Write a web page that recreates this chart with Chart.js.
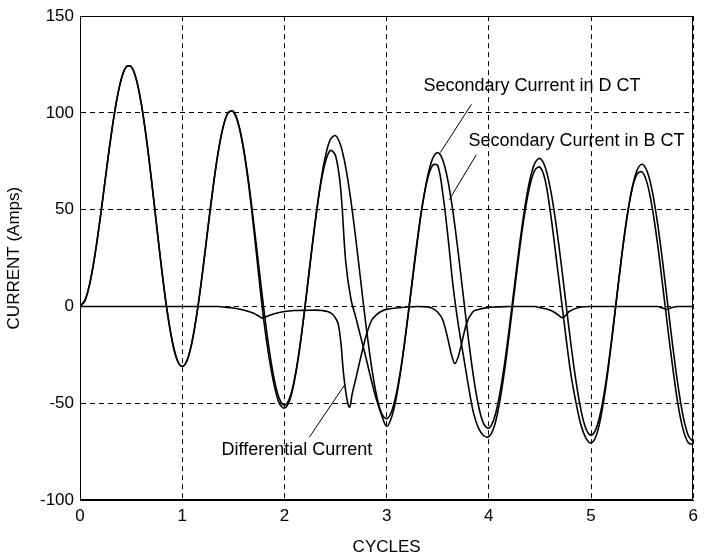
<!DOCTYPE html>
<html>
<head>
<meta charset="utf-8">
<script src="https://cdn.jsdelivr.net/npm/chart.js@4.4.1/dist/chart.umd.min.js"></script>
<style>
  html, body { margin: 0; padding: 0; background: #fff; }
</style>
</head>
<body>
<canvas id="currentChart" width="704" height="560"></canvas>
<script>
// time axis, in cycles (shared by the two CT currents)
const cycles = [
  0, 0.05, 0.1, 0.15, 0.2, 0.25, 0.3, 0.35, 0.4, 0.45,
  0.5, 0.55, 0.6, 0.65, 0.7, 0.75, 0.8, 0.85, 0.9, 0.95,
  1, 1.05, 1.1, 1.15, 1.2, 1.25, 1.3, 1.35, 1.4, 1.45,
  1.5, 1.55, 1.6, 1.65, 1.7, 1.75, 1.8, 1.85, 1.9, 1.95,
  2, 2.05, 2.1, 2.15, 2.2, 2.25, 2.3, 2.35, 2.4, 2.45,
  2.5, 2.55, 2.6, 2.65, 2.7, 2.75, 2.8, 2.85, 2.9, 2.95,
  3, 3.05, 3.1, 3.15, 3.2, 3.25, 3.3, 3.35, 3.4, 3.45,
  3.5, 3.55, 3.6, 3.65, 3.7, 3.75, 3.8, 3.85, 3.9, 3.95,
  4, 4.05, 4.1, 4.15, 4.2, 4.25, 4.3, 4.35, 4.4, 4.45,
  4.5, 4.55, 4.6, 4.65, 4.7, 4.75, 4.8, 4.85, 4.9, 4.95,
  5, 5.05, 5.1, 5.15, 5.2, 5.25, 5.3, 5.35, 5.4, 5.45,
  5.5, 5.55, 5.6, 5.65, 5.7, 5.75, 5.8, 5.85, 5.9, 5.95,
  6
];

// Secondary Current in D CT (Amps)
const dCT = [
  0, 3.3, 13.0, 27.9, 46.5, 66.9, 86.7, 103.9, 116.7, 123.7,
  124.0, 117.5, 104.7, 86.6, 65.0, 41.7, 18.9, -1.4, -17.3, -27.5,
  -31.0, -27.5, -17.3, -1.5, 18.2, 39.8, 60.8, 79.1, 92.7, 100.2,
  100.8, 94.5, 82.0, 64.3, 43.1, 20.4, -2.0, -21.9, -37.6, -47.6,
  -51.0, -47.4, -37.1, -21.1, -0.9, 21.2, 43.1, 62.5, 77.4, 86.3,
  88.3, 83.3, 71.8, 54.9, 34.1, 11.6, -10.6, -30.3, -45.6, -55.2,
  -58.0, -54.0, -43.7, -28.2, -8.9, 12.3, 33.3, 52.2, 67.0, 76.4,
  79.5, 75.6, 64.9, 48.5, 28.0, 5.5, -16.7, -36.4, -51.6, -60.7,
  -62.9, -58.2, -47.2, -31.0, -11.1, 10.5, 31.7, 50.5, 65.1, 74.1,
  76.5, 72.2, 61.4, 45.3, 25.4, 3.5, -18.3, -37.7, -53.2, -63.1,
  -66.5, -63.0, -53.0, -37.3, -17.6, 4.2, 25.9, 45.4, 60.8, 70.4,
  73.5, 69.6, 59.2, 43.2, 23.2, 1.1, -20.9, -40.7, -56.5, -66.5,
  -70.0
];

// Secondary Current in B CT (Amps)
const bCT = [
  0, 3.3, 13.0, 27.9, 46.5, 66.9, 86.7, 103.9, 116.7, 123.7,
  124.0, 117.5, 104.7, 86.6, 65.0, 41.7, 18.9, -1.4, -17.3, -27.5,
  -31.0, -27.5, -17.3, -1.5, 18.2, 39.8, 60.8, 79.1, 92.7, 100.2,
  100.6, 94.0, 81.0, 62.8, 40.1, 15.4, -8.0, -26.4, -40.6, -50.1,
  -52.5, -48.7, -37.9, -21.2, -0.5, 21.9, 43.4, 61.6, 74.5, 80.6,
  78.0, 61.0, 23.0, 4.0, -6.0, -16.5, -27.0, -38.0, -48.0, -56.0,
  -61.9, -57.0, -45.5, -28.8, -8.4, 13.4, 34.5, 52.6, 65.8, 73.0,
  72.8, 58.0, 36.0, 10.5, -9.0, -25.0, -41.0, -55.0, -63.0, -66.8,
  -67.3, -62.4, -51.1, -34.5, -14.2, 7.7, 29.1, 47.8, 62.1, 70.4,
  72.0, 65.5, 49.5, 29.0, 7.5, -14.0, -34.0, -49.0, -61.0, -68.0,
  -70.5, -66.8, -56.0, -39.4, -18.5, 4.2, 26.4, 45.8, 60.3, 68.4,
  69.5, 63.5, 50.5, 32.5, 11.0, -11.0, -32.0, -50.5, -63.5, -70.3,
  -71.6
];

// Differential Current, sampled more finely round its dips
const diffCycles = [
  0, 1.35, 1.4, 1.5, 1.6, 1.7, 1.75, 1.78, 1.82, 1.9,
  2.0, 2.1, 2.2, 2.3, 2.37, 2.42, 2.47, 2.5, 2.53, 2.555,
  2.575, 2.6, 2.625, 2.64, 2.66, 2.7, 2.75, 2.8, 2.85, 2.9,
  2.95, 3.0, 3.1, 3.2, 3.3, 3.4, 3.45, 3.5, 3.55, 3.6,
  3.635, 3.667, 3.7, 3.73, 3.78, 3.84, 3.9, 3.97, 4.1, 4.2,
  4.45, 4.5, 4.59, 4.656, 4.72, 4.786, 4.88, 5.0, 5.65, 5.7,
  5.74, 5.78, 5.85, 6.0
];
const diffCurrent = [
  0, 0, -0.3, -0.8, -1.8, -3.5, -5, -6, -5.3, -3.8,
  -2.6, -2.1, -2, -1.9, -2.1, -2.6, -4, -6, -10, -20,
  -33, -44, -51, -52, -46, -37, -25.5, -15, -7.5, -4.3,
  -2.5, -1.5, -0.8, -0.3, 0, -0.2, -1, -3, -7, -17,
  -25, -29.5, -26, -20, -9, -3, -1.5, -0.7, -0.2, 0,
  0, -0.6, -1.7, -3.5, -5.8, -2.6, -0.5, 0, 0, -0.8,
  -1.5, -0.8, 0, 0
];

const xTicks = [0, 1, 2, 3, 4, 5, 6];
const yTicks = [-100, -50, 0, 50, 100, 150];

// text labels with leader lines, placed in data units
const notes = [
  { text: 'Secondary Current in D CT', at: [3.36, 114], from: [3.83, 104.5], to: [3.525, 79.5] },
  { text: 'Secondary Current in B CT', at: [3.8, 85.6], from: [3.877, 78.4], to: [3.613, 55.2] },
  { text: 'Differential Current', at: [1.384, -74.2], from: [2.244, -67.5], to: [2.587, -40.7] }
];

function pairUp(xs, ys) {
  return xs.map(function (x, i) { return { x: x, y: ys[i] }; });
}

const FONT = '"Liberation Sans", Arial, sans-serif';
Chart.defaults.font.family = FONT;
Chart.defaults.color = '#000';

const framePlugin = {
  id: 'frame',
  afterDatasetsDraw(chart) {
    const ctx = chart.ctx;
    const a = chart.chartArea;
    ctx.save();
    ctx.strokeStyle = '#000';
    ctx.lineWidth = 1;
    ctx.setLineDash([]);
    ctx.strokeRect(Math.round(a.left) + 0.5, Math.round(a.top) + 0.5,
      Math.round(a.width) - 1, Math.round(a.height) - 1);

    const xs = chart.scales.x, ys = chart.scales.y;
    ctx.font = '18px ' + FONT;
    ctx.fillStyle = '#000';
    ctx.textBaseline = 'middle';
    ctx.textAlign = 'left';
    notes.forEach(function (n) {
      ctx.beginPath();
      ctx.moveTo(xs.getPixelForValue(n.from[0]), ys.getPixelForValue(n.from[1]));
      ctx.lineTo(xs.getPixelForValue(n.to[0]), ys.getPixelForValue(n.to[1]));
      ctx.stroke();
      ctx.fillText(n.text, xs.getPixelForValue(n.at[0]), ys.getPixelForValue(n.at[1]));
    });
    ctx.restore();
  }
};

const waveStyle = {
  borderColor: '#000',
  borderWidth: 1.6,
  pointRadius: 0,
  fill: false,
  tension: 0.35
};
const diffStyle = {
  borderColor: '#000',
  borderWidth: 1.6,
  pointRadius: 0,
  fill: false,
  cubicInterpolationMode: 'monotone'
};

new Chart(document.getElementById('currentChart'), {
  type: 'line',
  data: {
    datasets: [
      Object.assign({ label: 'Secondary Current in D CT', data: pairUp(cycles, dCT) }, waveStyle),
      Object.assign({ label: 'Secondary Current in B CT', data: pairUp(cycles, bCT) }, waveStyle),
      Object.assign({ label: 'Differential Current', data: pairUp(diffCycles, diffCurrent) }, diffStyle)
    ]
  },
  options: {
    responsive: false,
    animation: false,
    devicePixelRatio: 1,
    layout: { padding: { top: 15, right: 10, bottom: 0, left: 0 } },
    plugins: {
      legend: { display: false },
      tooltip: { enabled: false }
    },
    scales: {
      x: {
        type: 'linear',
        min: 0,
        max: 6,
        afterBuildTicks: function (s) { s.ticks = xTicks.map(function (v) { return { value: v }; }); },
        afterFit: function (s) { s.height = 60; },
        ticks: { font: { size: 17 }, padding: 6, color: '#000', maxRotation: 0 },
        grid: { color: '#000', lineWidth: 1, drawTicks: false },
        border: { display: true, color: '#000', width: 1, dash: [5, 4] },
        title: { display: true, text: 'CYCLES', font: { size: 17 }, color: '#000', padding: { top: 0, bottom: 2 } }
      },
      y: {
        type: 'linear',
        min: -100,
        max: 150,
        afterBuildTicks: function (s) { s.ticks = yTicks.map(function (v) { return { value: v }; }); },
        afterFit: function (s) { s.width = 80; },
        ticks: { font: { size: 17 }, padding: 6, color: '#000' },
        grid: { color: '#000', lineWidth: 1, drawTicks: false },
        border: { display: true, color: '#000', width: 1, dash: [5, 4] },
        title: { display: true, text: 'CURRENT (Amps)', font: { size: 17 }, color: '#000', padding: { top: 4, bottom: 0 } }
      }
    }
  },
  plugins: [framePlugin]
});
</script>
</body>
</html>
